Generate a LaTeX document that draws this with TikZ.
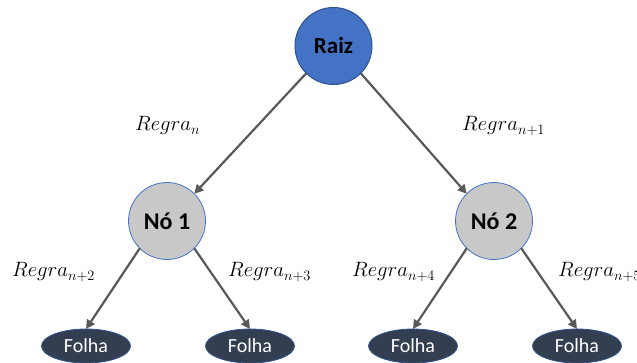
\documentclass[tikz,border=0pt]{standalone}
\usepackage{fontspec}
\setmainfont{Carlito}
\usetikzlibrary{arrows.meta,shapes.geometric}
\definecolor{rootblue}{HTML}{4472C4}
\definecolor{rootedge}{HTML}{2F528F}
\definecolor{innergray}{HTML}{C8C8C8}
\definecolor{leafnavy}{HTML}{333F50}
\definecolor{edgegray}{HTML}{595959}
\begin{document}
\begin{tikzpicture}[x=1pt,y=-1pt,
  rootnode/.style={circle, minimum size=77pt, inner sep=0pt, outer sep=0pt,
    fill=rootblue, draw=rootedge, line width=1pt,
    font=\fontsize{23}{26}\selectfont\bfseries},
  innernode/.style={circle, minimum size=77pt, inner sep=0pt, outer sep=0pt,
    fill=innergray, draw=rootblue, line width=0.8pt,
    font=\fontsize{24}{27}\selectfont\bfseries},
  leafnode/.style={ellipse, minimum width=89pt, minimum height=34pt, inner sep=0pt, outer sep=0pt,
    fill=leafnavy, draw=rootedge, line width=0.8pt, text=white,
    font=\fontsize{20}{23}\selectfont},
  edge/.style={draw=edgegray, line width=2.2pt,
    -{Triangle[length=9pt,width=9pt]}},
  rulelabel/.style={anchor=base west, inner sep=0pt,
    font=\fontsize{21}{24}\selectfont}
]
\useasboundingbox (0,0) rectangle (637,363);

% tree nodes
\node[rootnode]  (raiz) at (333.5,46) {Raiz};
\node[innernode] (n1)   at (167,221)  {Nó 1};
\node[innernode] (n2)   at (494,221)  {Nó 2};
\node[leafnode]  (f1)   at (86,346)  {Folha};
\node[leafnode]  (f2)   at (250,346) {Folha};
\node[leafnode]  (f3)   at (413,346) {Folha};
\node[leafnode]  (f4)   at (577,346) {Folha};

% connectors
\draw[edge] (raiz.south west) -- (n1.north east);
\draw[edge] (raiz.south east) -- (n2.north west);
\draw[edge] (n1.south west) -- (f1.north);
\draw[edge] (n1.south east) -- (f2.north);
\draw[edge] (n2.south west) -- (f3.north);
\draw[edge] (n2.south east) -- (f4.north);

% rule labels
\node[rulelabel] (r0) at (135,131) {$Regra_{n}$};
\node[rulelabel] (r1) at (462,131) {$Regra_{n+1}$};
\node[rulelabel] (r2) at (12,277)  {$Regra_{n+2}$};
\node[rulelabel] (r3) at (228,277) {$Regra_{n+3}$};
\node[rulelabel] (r4) at (352,277) {$Regra_{n+4}$};
\node[rulelabel] (r5) at (558,277) {$Regra_{n+5}$};
\end{tikzpicture}
\end{document}
